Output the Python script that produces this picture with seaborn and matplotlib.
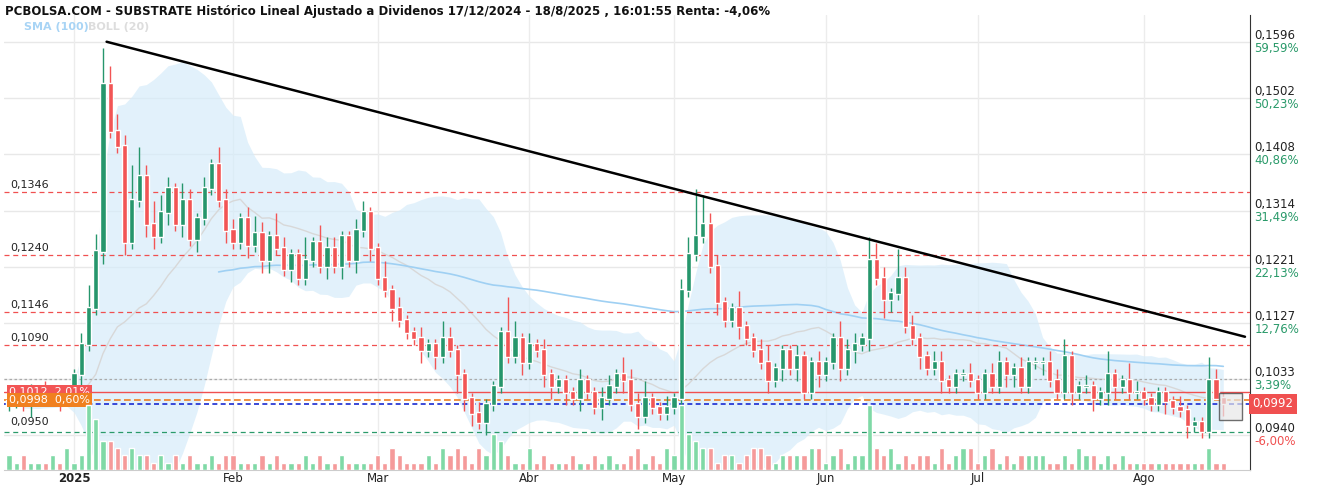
import numpy as np
import pandas as pd
import matplotlib
matplotlib.use("Agg")
import matplotlib.pyplot as plt
import seaborn as sns

# ---- data ----
closes_dec = [0.0995,0.1000,0.0990,0.1005,0.1010,0.0998,0.1010,0.1000,0.1005]
closes_jan = [0.1040,0.1090,0.1150,0.1245,0.1525,0.1445,0.1420,0.1260,0.1330,0.1370,0.1290,0.1270,0.1310,
              0.1350,0.1290,0.1330,0.1265,0.1300,0.1350,0.1390,0.1330,0.1280]
closes_feb = [0.1260,0.1300,0.1255,0.1275,0.1230,0.1270,0.1250,0.1215,0.1240,0.1200,0.1230,0.1260,0.1220,
              0.1250,0.1220,0.1270,0.1230,0.1280,0.1310,0.1250]
closes_mar = [0.1200,0.1180,0.1150,0.1130,0.1110,0.1100,0.1080,0.1090,0.1070,0.1100,0.1080,0.1040,0.1000,
              0.0975,0.0960,0.0990,0.1020,0.1110,0.1070,0.1100,0.1060]
closes_apr = [0.1090,0.1080,0.1040,0.1020,0.1030,0.1010,0.1000,0.1030,0.1010,0.0985,0.1000,0.1020,0.1040,
              0.1030,0.0990,0.0970,0.1000,0.0985,0.0975,0.0985]
closes_may = [0.1000,0.1180,0.1240,0.1270,0.1290,0.1220,0.1160,0.1130,0.1150,0.1120,0.1100,0.1080,0.1060,
              0.1030,0.1050,0.1080,0.1050,0.1070,0.1010,0.1060,0.1040]
closes_jun = [0.1060,0.1100,0.1050,0.1080,0.1090,0.1100,0.1230,0.1200,0.1165,0.1175,0.1200,0.1120,0.1100,
              0.1070,0.1050,0.1060,0.1030,0.1020,0.1040,0.1040,0.1030]
closes_jul = [0.1010,0.1040,0.1020,0.1060,0.1040,0.1050,0.1020,0.1060,0.1060,0.1060,0.1030,0.1010,0.1070,
              0.1010,0.1020,0.1020,0.1000,0.1010,0.1040,0.1020,0.1030,0.1010,0.1010]
closes_aug = [0.1000,0.0990,0.1010,0.0995,0.0985,0.0980,0.0955,0.0960,0.0945,0.1030,0.1000,0.0992]

# upper / lower wick (units of 0.001) and volume (0-9), one digit per bar
upper_wick = ("121212111" "1243633265243213212132" "21232142114132211221" "131211211321112111631"
              "21211112112213223112" "123852211311231112112" "113221432152211221112" "11221121112231121141132"
              "111112111421")
lower_wick = ("111211121" "1211211211221212121112" "11212211211112121212" "112111212113221211112"
              "11221212112112121111" "111111211211121212112" "112121213211121121111" "11112211121112112122111"
              "111211211102")
volume = ("212111213" "1297443232212121211212" "21112121112121121111" "213211121323213254211"
          "31211121121211231213" "295433122123321222233" "123122932312122131233" "12312122221121322121211"
          "111111111311")

right_ticks = [0.0940, 0.1033, 0.1127, 0.1221, 0.1314, 0.1408, 0.1502, 0.1596]
right_pcts = ["-6,00%", "3,39%", "12,76%", "22,13%", "31,49%", "40,86%", "50,23%", "59,59%"]
red_levels = [0.1346, 0.1240, 0.1146, 0.1090]
month_labels = ["2025", "Feb", "Mar", "Abr", "May", "Jun", "Jul", "Ago"]
month_starts = ["2025-01-02", "2025-02-03", "2025-03-03", "2025-04-01", "2025-05-02",
                "2025-06-02", "2025-07-01", "2025-08-01"]

# ---- build ----
closes = np.array(closes_dec + closes_jan + closes_feb + closes_mar + closes_apr +
                  closes_may + closes_jun + closes_jul + closes_aug)
n = len(closes)
holidays = pd.to_datetime(["2024-12-25", "2024-12-26", "2025-01-01", "2025-04-18", "2025-04-21", "2025-05-01"])
dates = pd.bdate_range("2024-12-17", "2025-08-31")
dates = dates[~dates.isin(holidays)][:n]
opens = np.concatenate([[0.0990], closes[:-1]])
up = np.array([int(c) for c in upper_wick[:n]]) * 0.001
lo = np.array([int(c) for c in lower_wick[:n]]) * 0.001
highs = np.maximum(opens, closes) + up
lows = np.minimum(opens, closes) - lo
vols = np.array([int(c) for c in volume[:n]], dtype=float)
x = np.arange(n)

df = pd.DataFrame({"x": x, "close": closes})
mid = df["close"].rolling(20, min_periods=3).mean()
sd = df["close"].rolling(20, min_periods=3).std()
df["sma100"] = df["close"].rolling(100, min_periods=30).mean()

sns.set_style("white")
fig = plt.figure(figsize=(13.2, 4.92), dpi=100)
ax = fig.add_axes([0.003, 0.045, 0.944, 0.925])
ax.set_xlim(-0.7, 171.7)
ax.set_ylim(0.0882, 0.1641)

# grid
for t in right_ticks:
    ax.axhline(t, color="#e8e8e8", lw=1, zorder=0)
for d in month_starts:
    i = int(np.searchsorted(dates, pd.Timestamp(d)))
    ax.axvline(i, color="#ececec", lw=1, zorder=0)

# bollinger
ax.fill_between(x, mid - 2 * sd, mid + 2 * sd, color="#d6ecfa", alpha=0.7, lw=0, zorder=1)
ax.plot(x, mid, color="#d8d8d8", lw=1, zorder=2)
sns.lineplot(data=df, x="x", y="sma100", ax=ax, color="#9fd0f3", lw=1.2, zorder=2)

# levels
for lv in red_levels:
    ax.axhline(lv, color="#f05050", ls=(0, (4, 3)), lw=0.9, zorder=2)
ax.axhline(0.1033, color="#aaaaaa", ls=(0, (2, 2)), lw=0.9, zorder=2)
ax.axhline(0.1012, color="#f05050", lw=1, zorder=2)
ax.axhline(0.0998, color="#f08020", ls=(0, (4, 2)), lw=1.2, zorder=2)
ax.axhline(0.0992, color="#1a2bd0", ls=(0, (3, 2)), lw=1.2, zorder=2)
ax.axhline(0.0945, color="#2a9a6a", ls=(0, (4, 3)), lw=0.9, zorder=2)

# candles
green, red = "#26966c", "#f25555"
cols = np.where(closes >= opens, green, red)
ax.vlines(x, lows, highs, colors=cols, lw=1, zorder=4)
ax.bar(x, np.abs(closes - opens) + 0.0003, bottom=np.minimum(opens, closes), width=0.72,
       color=cols, zorder=5)

# trend line
ax.plot([13.5, 171], [0.1596, 0.1104], color="black", lw=1.8, zorder=6)
ax.add_patch(plt.Rectangle((n - 1.6, 0.0965), 3.2, 0.0045, fill=True, fc="#e8e8e8", ec="#333333",
                           lw=1, alpha=0.7, zorder=6))

# volume
axv = ax.twinx()
axv.set_ylim(0, vols.max() * 7.0)
vcols = np.where(closes >= opens, "#7fd9a6", "#f59a9a")
axv.bar(x, vols, width=0.72, color=vcols, zorder=3)
axv.set_yticks([])
for a in (ax, axv):
    for s in a.spines.values():
        s.set_visible(False)
ax.spines["right"].set_visible(True)
ax.spines["right"].set_color("#333333")
ax.spines["bottom"].set_visible(True)
ax.spines["bottom"].set_color("#cccccc")

ax.set_yticks([])
ax.set_xticks([])
ax.set_xlabel("")
ax.set_ylabel("")

# right axis labels
for t, p in zip(right_ticks, right_pcts):
    ax.text(171.7 + 0.6, t, f"{t:.4f}".replace(".", ","), fontsize=8.5, va="bottom", ha="left",
            color="#222222", clip_on=False)
    ax.text(171.7 + 0.6, t, p, fontsize=8.5, va="top", ha="left",
            color="#f05050" if p.startswith("-") else "#2a9a6a", clip_on=False)
ax.text(171.7 + 0.3, 0.0992, "0,0992", fontsize=8.5, va="center", ha="left", color="white",
        clip_on=False, bbox=dict(fc="#f05050", ec="none", pad=2.5))

# left labels
for lv in red_levels + [0.0950]:
    ax.text(0.2, lv + 0.0003, f"{lv:.4f}".replace(".", ","), fontsize=8, va="bottom", color="#222222")
ax.text(0, 0.1012, "0,1012  2,01%", fontsize=8, va="center", color="white",
        bbox=dict(fc="#f25555", ec="none", pad=1.5), zorder=7)
ax.text(0, 0.0998, "0,0998  0,60%", fontsize=8, va="center", color="white",
        bbox=dict(fc="#f08020", ec="none", pad=1.5), zorder=8)

# months
for lab, d in zip(month_labels, month_starts):
    i = int(np.searchsorted(dates, pd.Timestamp(d)))
    ax.text(i, 0.0878, lab, fontsize=8.5, ha="center", va="top", color="#222222",
            fontweight="bold" if lab == "2025" else "normal", clip_on=False)

fig.text(0.004, 0.99, "PCBOLSA.COM - SUBSTRATE Histórico Lineal Ajustado a Dividenos 17/12/2024 - 18/8/2025 , 16:01:55 Renta: -4,06%",
         fontsize=8.5, fontweight="bold", va="top", ha="left", color="#111111")
fig.text(0.018, 0.955, "SMA (100)", fontsize=8, color="#a8d4f5", va="top", fontweight="bold")
fig.text(0.067, 0.955, "BOLL (20)", fontsize=8, color="#dddddd", va="top", fontweight="bold")

fig.savefig("out.png", dpi=100)
